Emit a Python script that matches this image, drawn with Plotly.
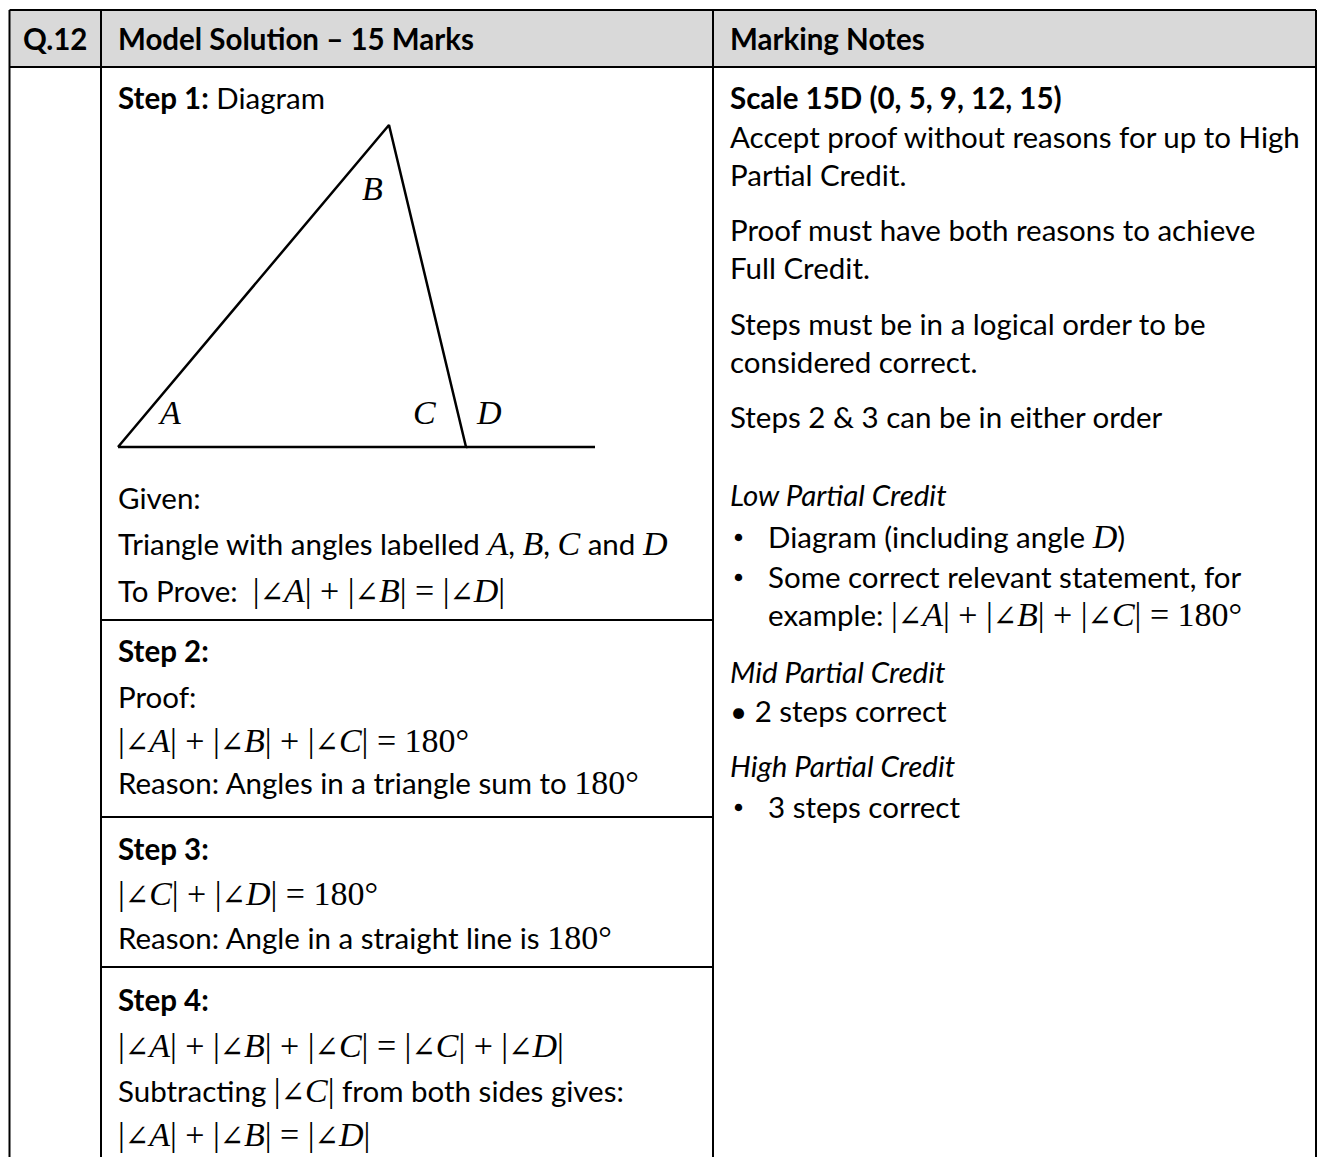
import plotly.graph_objects as go

W, H = 1325, 1157
OFF = 8  # browser body margin; the figure is sized and ranged so page pixels match the reference

# ---------------- data ----------------
header_labels = ["Q.12", "Model Solution – 15 Marks", "Marking Notes"]

# triangle diagram (vertices A, B, C and the extended base line)
tri_x = [118, 389, 466, 118]
tri_y = [447, 125, 447, 447]
ext_x = [466, 595]
ext_y = [447, 447]
angle_labels = ["A", "B", "C", "D"]
angle_label_x = [169, 372, 424, 489]
angle_label_y = [412, 188, 412, 412]

# ---------------- styles ----------------
BODY = "Lato"
MATH = "'Liberation Serif'"
FS = 29.5
MS = 34


def m(s):
    return f'<span style="font-family:{MATH};font-size:{MS}px">{s}</span>'


ANGLE = "<span style=\"font-family:'DejaVu Serif';font-size:29px\">∠</span>"


def ang(letter):
    return f"|{ANGLE}<i>{letter}</i>|"


def var(letter):
    return m(f"<i>{letter}</i>")


left_texts = [
    "<b>Step 1:</b> Diagram",
    "Given:",
    "Triangle with angles labelled " + var("A") + ", " + var("B") + ", " + var("C") + " and " + var("D"),
    "To Prove:  " + m(f"{ang('A')} + {ang('B')} = {ang('D')}"),
    "<b>Step 2:</b>",
    "Proof:",
    m(f"{ang('A')} + {ang('B')} + {ang('C')} = 180°"),
    "Reason: Angles in a triangle sum to " + m("180°"),
    "<b>Step 3:</b>",
    m(f"{ang('C')} + {ang('D')} = 180°"),
    "Reason: Angle in a straight line is " + m("180°"),
    "<b>Step 4:</b>",
    m(f"{ang('A')} + {ang('B')} + {ang('C')} = {ang('C')} + {ang('D')}"),
    "Subtracting " + m(ang("C")) + " from both sides gives:",
    m(f"{ang('A')} + {ang('B')} = {ang('D')}"),
]
left_y = [97, 497, 543, 590, 650, 696, 740, 782, 848, 893, 937, 999, 1045, 1090, 1134]

right_texts = [
    "<b>Scale 15D (0, 5, 9, 12, 15)</b>",
    "Accept proof without reasons for up to High",
    "Partial Credit.",
    "Proof must have both reasons to achieve",
    "Full Credit.",
    "Steps must be in a logical order to be",
    "considered correct.",
    "Steps 2 &amp; 3 can be in either order",
    "<i>Low Partial Credit</i>",
    "Diagram (including angle " + var("D") + ")",
    "Some correct relevant statement, for",
    "example: " + m(f"{ang('A')} + {ang('B')} + {ang('C')} = 180°"),
    "<i>Mid Partial Credit</i>",
    "• 2 steps correct",
    "<i>High Partial Credit</i>",
    "3 steps correct",
]
right_y = [97, 136, 174, 229, 267, 323, 361, 416, 494, 536, 576, 614, 671, 710, 765, 806]
right_x = [728, 728, 728, 728, 728, 728, 728, 728, 728, 766, 766, 766, 728, 728, 728, 766]
bullet_y = [536, 576, 806]

# ---------------- figure ----------------
fig = go.Figure()

fig.add_trace(go.Scatter(x=tri_x, y=tri_y, mode="lines",
                         line=dict(color="black", width=2.5), hoverinfo="skip"))
fig.add_trace(go.Scatter(x=ext_x, y=ext_y, mode="lines",
                         line=dict(color="black", width=2.5), hoverinfo="skip"))

LEFT, RIGHT = 9.5, 1316
shapes = []
# header background
shapes.append(dict(type="rect", x0=LEFT, x1=RIGHT, y0=10, y1=67,
                   fillcolor="#d9d9d9", line=dict(width=0), layer="below"))
LW = 2


def hline(y, x0, x1):
    shapes.append(dict(type="line", x0=x0, x1=x1, y0=y, y1=y, line=dict(color="black", width=LW)))


def vline(x, y0, y1):
    shapes.append(dict(type="line", x0=x, x1=x, y0=y0, y1=y1, line=dict(color="black", width=LW)))


hline(10, LEFT, RIGHT)
hline(67, LEFT, RIGHT)
for yy in [620, 817, 967]:
    hline(yy, 101, 713)
for xx in [LEFT, 101, 713, RIGHT]:
    vline(xx, 10, 1170)

ann = []


def text(x, y, s, size=FS):
    ann.append(dict(x=x, y=y, xref="x", yref="y", text=s, showarrow=False,
                    xanchor="left", yanchor="middle",
                    font=dict(family=BODY, size=size, color="black")))


header_x = [21, 116, 728]
for hx, ht in zip(header_x, header_labels):
    text(hx, 38, f"<b>{ht}</b>")

for lab, lx, ly in zip(angle_labels, angle_label_x, angle_label_y):
    ann.append(dict(x=lx, y=ly, xref="x", yref="y", text=f"<i>{lab}</i>", showarrow=False,
                    xanchor="center", yanchor="middle",
                    font=dict(family="Liberation Serif", size=MS, color="black")))

for s, yy in zip(left_texts, left_y):
    text(116, yy, s)
for s, xx, yy in zip(right_texts, right_x, right_y):
    text(xx, yy, s)
for yy in bullet_y:
    text(732, yy, "●", size=15)

FW, FH = W - OFF, H - OFF
fig.update_layout(
    width=FW, height=FH,
    margin=dict(l=0, r=0, t=0, b=0),
    paper_bgcolor="white", plot_bgcolor="white",
    showlegend=False,
    xaxis=dict(range=[OFF, OFF + FW], visible=False, fixedrange=True),
    yaxis=dict(range=[OFF + FH, OFF], visible=False, fixedrange=True),
    shapes=shapes, annotations=ann,
)

fig.write_html("out.html")
